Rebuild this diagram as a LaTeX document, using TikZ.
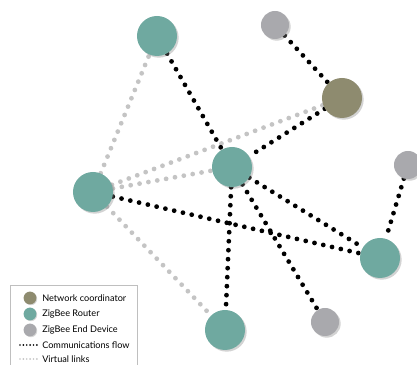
\documentclass[tikz,border=0pt]{standalone}
\usepackage{fontspec}
\setmainfont{Lato}
\usetikzlibrary{shadows,backgrounds}

\definecolor{router}{HTML}{6FA9A0}
\definecolor{coord}{HTML}{8E8B6F}
\definecolor{enddev}{HTML}{A9A9AD}
\definecolor{virt}{HTML}{C4C4C4}

\begin{document}
\begin{tikzpicture}
      [x=0.025cm,y=-0.025cm,
       router node/.style={circle,fill=router,minimum size=1cm,inner sep=0pt,drop shadow={shadow xshift=1.2pt,shadow yshift=-1.2pt,opacity=0.35}},
       coord node/.style={router node,fill=coord},
       end node/.style={router node,fill=enddev,minimum size=0.7cm},
       flow/.style={line width=3.4pt,line cap=round,dash pattern=on 0pt off 6.4pt},
       virtual/.style={flow,draw=virt},
       legend dot/.style={circle,inner sep=0pt,minimum size=0.32cm,drop shadow={shadow xshift=0.6pt,shadow yshift=-0.6pt,opacity=0.3}},
       legend text/.style={anchor=west,inner sep=0pt,font=\fontsize{6.5}{7}\selectfont}]
        \useasboundingbox (0,0) rectangle (417,365);

        \node[router node] (rtop) at (157,36) {};
        \node[end node] (etop) at (275,25) {};
        \node[coord node] (nc) at (342,98) {};
        \node[router node] (rmid) at (232,167) {};
        \node[end node] (eright) at (408,165) {};
        \node[router node] (rleft) at (93,192) {};
        \node[router node] (rright) at (380,258) {};
        \node[router node] (rbot) at (225,330) {};
        \node[end node] (ebot) at (325,322) {};

        \begin{scope}[on background layer]
        \draw[virtual] (rleft) -- (rtop);
        \draw[virtual] (rleft) -- (nc);
        \draw[virtual] (rleft) -- (rmid);
        \draw[virtual] (rleft) -- (rbot);

        \draw[flow] (rtop) -- (rmid);
        \draw[flow] (etop) -- (nc);
        \draw[flow] (nc) -- (rmid);
        \draw[flow] (rmid) -- (rright);
        \draw[flow] (rmid) -- (rbot);
        \draw[flow] (rmid) -- (ebot);
        \draw[flow] (rleft) -- (rright);
        \draw[flow] (eright) -- (rright);
        \end{scope}

        % legend
        \draw[gray!50,fill=white] (10,285) rectangle (137,372);
        \node[legend dot,fill=coord] (lnc) at (30,298) {};
        \node[legend dot,fill=router] (lr) at (30,314) {};
        \node[legend dot,fill=enddev] (le) at (30,330) {};
        \coordinate (lf1) at (20,345);
        \coordinate (lf2) at (37,345);
        \coordinate (lv1) at (20,359);
        \coordinate (lv2) at (37,359);
        \draw[line width=1.3pt,line cap=round,dash pattern=on 0pt off 2.4pt] (lf1) -- (lf2);
        \draw[line width=1.3pt,line cap=round,dash pattern=on 0pt off 2.4pt,virt] (lv1) -- (lv2);
        \node[legend text] (tnc) at (42,298) {Network coordinator};
        \node[legend text] (tr) at (42,314) {ZigBee Router};
        \node[legend text] (te) at (42,330) {ZigBee End Device};
        \node[legend text] (tf) at (42,345) {Communications flow};
        \node[legend text] (tv) at (42,359) {Virtual links};

      \end{tikzpicture}
\end{document}
